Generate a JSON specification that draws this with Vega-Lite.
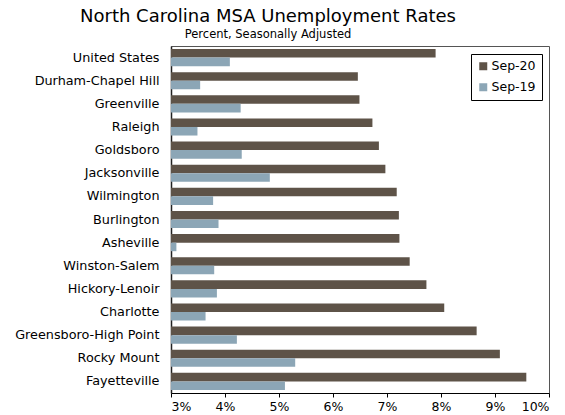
{
  "$schema": "https://vega.github.io/schema/vega-lite/v6.json",
  "autosize": "none",
  "width": 378,
  "height": 347,
  "padding": {"left": 171, "top": 46, "right": 16, "bottom": 22},
  "background": "white",
  "title": {
    "text": "North Carolina MSA Unemployment Rates",
    "subtitle": "Percent, Seasonally Adjusted",
    "anchor": "middle",
    "dx": -92,
    "offset": 6,
    "font": "DejaVu Sans",
    "fontSize": 18,
    "fontWeight": "normal",
    "color": "#000",
    "subtitleFont": "DejaVu Sans",
    "subtitleFontSize": 11.5,
    "subtitleColor": "#000",
    "subtitlePadding": 3
  },
  "data": {
    "values": [
      {"city": "United States", "period": "Sep-20", "rate": 7.9, "order": 1},
      {"city": "United States", "period": "Sep-19", "rate": 4.09, "order": 1},
      {"city": "Durham-Chapel Hill", "period": "Sep-20", "rate": 6.46, "order": 2},
      {"city": "Durham-Chapel Hill", "period": "Sep-19", "rate": 3.54, "order": 2},
      {"city": "Greenville", "period": "Sep-20", "rate": 6.49, "order": 3},
      {"city": "Greenville", "period": "Sep-19", "rate": 4.29, "order": 3},
      {"city": "Raleigh", "period": "Sep-20", "rate": 6.73, "order": 4},
      {"city": "Raleigh", "period": "Sep-19", "rate": 3.49, "order": 4},
      {"city": "Goldsboro", "period": "Sep-20", "rate": 6.85, "order": 5},
      {"city": "Goldsboro", "period": "Sep-19", "rate": 4.31, "order": 5},
      {"city": "Jacksonville", "period": "Sep-20", "rate": 6.97, "order": 6},
      {"city": "Jacksonville", "period": "Sep-19", "rate": 4.83, "order": 6},
      {"city": "Wilmington", "period": "Sep-20", "rate": 7.18, "order": 7},
      {"city": "Wilmington", "period": "Sep-19", "rate": 3.78, "order": 7},
      {"city": "Burlington", "period": "Sep-20", "rate": 7.22, "order": 8},
      {"city": "Burlington", "period": "Sep-19", "rate": 3.88, "order": 8},
      {"city": "Asheville", "period": "Sep-20", "rate": 7.23, "order": 9},
      {"city": "Asheville", "period": "Sep-19", "rate": 3.1, "order": 9},
      {"city": "Winston-Salem", "period": "Sep-20", "rate": 7.42, "order": 10},
      {"city": "Winston-Salem", "period": "Sep-19", "rate": 3.8, "order": 10},
      {"city": "Hickory-Lenoir", "period": "Sep-20", "rate": 7.73, "order": 11},
      {"city": "Hickory-Lenoir", "period": "Sep-19", "rate": 3.85, "order": 11},
      {"city": "Charlotte", "period": "Sep-20", "rate": 8.06, "order": 12},
      {"city": "Charlotte", "period": "Sep-19", "rate": 3.64, "order": 12},
      {"city": "Greensboro-High Point", "period": "Sep-20", "rate": 8.66, "order": 13},
      {"city": "Greensboro-High Point", "period": "Sep-19", "rate": 4.22, "order": 13},
      {"city": "Rocky Mount", "period": "Sep-20", "rate": 9.09, "order": 14},
      {"city": "Rocky Mount", "period": "Sep-19", "rate": 5.3, "order": 14},
      {"city": "Fayetteville", "period": "Sep-20", "rate": 9.58, "order": 15},
      {"city": "Fayetteville", "period": "Sep-19", "rate": 5.11, "order": 15}
    ]
  },
  "mark": {"type": "bar"},
  "encoding": {
    "y": {
      "field": "city",
      "type": "nominal",
      "sort": {"field": "order", "order": "ascending"},
      "scale": {"paddingInner": 0.26, "paddingOuter": 0.13},
      "axis": {
        "title": null,
        "ticks": false,
        "domain": true,
        "domainColor": "#222",
        "domainWidth": 1.5,
        "labelFont": "DejaVu Sans",
        "labelFontSize": 12.8,
        "labelColor": "#000",
        "labelPadding": 12
      }
    },
    "yOffset": {
      "field": "period",
      "type": "nominal",
      "sort": ["Sep-20", "Sep-19"]
    },
    "x": {
      "field": "rate",
      "type": "quantitative",
      "scale": {"domain": [3, 10], "zero": false, "nice": false},
      "axis": {
        "title": null,
        "grid": false,
        "values": [3, 4, 5, 6, 7, 8, 9, 10],
        "labelExpr": "datum.value + '%'",
        "labelFont": "DejaVu Sans",
        "labelFontSize": 12.5,
        "labelColor": "#000",
        "domainColor": "#000",
        "tickColor": "#000",
        "tickSize": 4,
        "labelPadding": 3
      }
    },
    "x2": {"datum": 3},
    "color": {
      "field": "period",
      "type": "nominal",
      "sort": ["Sep-20", "Sep-19"],
      "scale": {"domain": ["Sep-20", "Sep-19"], "range": ["#5e5348", "#8ca6b6"]},
      "legend": {
        "title": null,
        "orient": "none",
        "legendX": 300,
        "legendY": 8,
        "symbolType": "square",
        "symbolSize": 64,
        "symbolStrokeWidth": 0,
        "labelFont": "DejaVu Sans",
        "labelFontSize": 12.5,
        "labelColor": "#000",
        "strokeColor": "#000",
        "padding": 6,
        "rowPadding": 8,
        "labelOffset": 2
      }
    }
  },
  "config": {
    "view": {"stroke": "#555", "strokeWidth": 1}
  }
}
